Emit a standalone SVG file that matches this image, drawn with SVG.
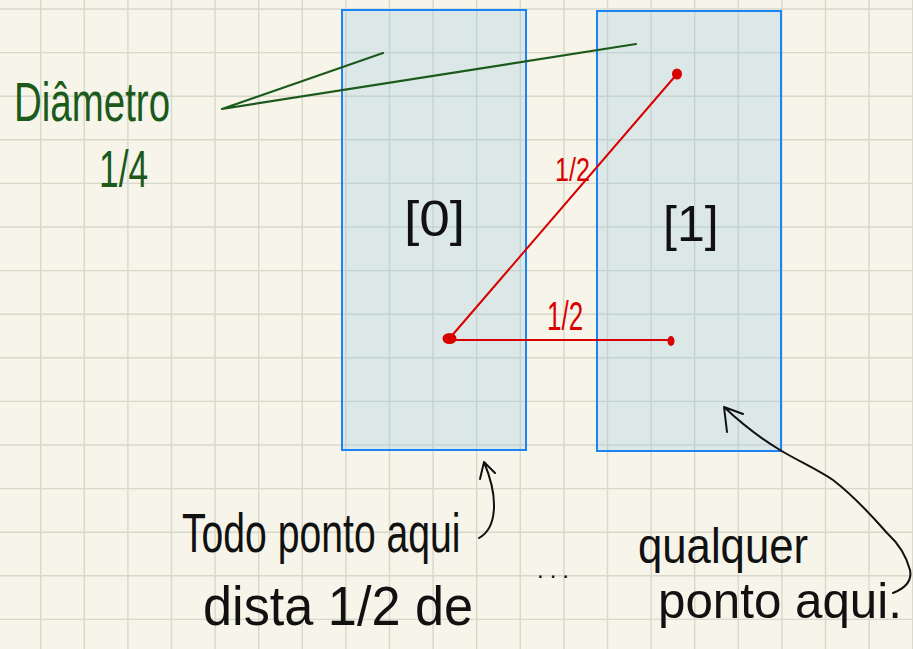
<svg xmlns="http://www.w3.org/2000/svg" width="913" height="649" viewBox="0 0 913 649">
<style>
.grid{stroke:#d8d8cb;stroke-width:1.4;fill:none}
.box{fill:#8cc3e1;fill-opacity:0.25;stroke:#1a84f6;stroke-width:2}
.hw{font-family:"Liberation Sans","DejaVu Sans",sans-serif;fill:#111}
.gt{fill:#1b5a1b}
.rt{fill:#d90000}
.green{stroke:#1b5a1b;stroke-width:2.2;fill:none;stroke-linecap:round}
.red{stroke:#d90000;stroke-width:2;fill:none}
.ink{stroke:#111;stroke-width:2;fill:none;stroke-linecap:round;stroke-linejoin:round}
</style>
<rect x="0" y="0" width="913" height="649" fill="#f7f5ea"/>
<path class="grid" d="M40.7 0V649M84.3 0V649M127.9 0V649M171.5 0V649M215.1 0V649M258.7 0V649M302.3 0V649M345.9 0V649M389.5 0V649M433.1 0V649M476.7 0V649M520.3 0V649M563.9 0V649M607.5 0V649M651.1 0V649M694.7 0V649M738.3 0V649M781.9 0V649M825.5 0V649M869.1 0V649M912.7 0V649
M0 9H913M0 52.6H913M0 96.2H913M0 139.8H913M0 183.4H913M0 227H913M0 270.6H913M0 314.2H913M0 357.8H913M0 401.4H913M0 445H913M0 488.6H913M0 532.2H913M0 575.8H913M0 619.4H913"/>

<g id="box0">
<rect class="box" x="342" y="10" width="184" height="440"/>
<text class="hw" transform="translate(404 236) scale(1.1 1)" font-size="50">[0]</text>
</g>
<g id="box1">
<rect class="box" x="597" y="11" width="184" height="440"/>
<text class="hw" transform="translate(663 241)" font-size="50">[1]</text>
</g>

<g id="diametro">
<text class="hw gt" transform="translate(14 121) scale(0.687 1)" font-size="56">Diâmetro</text>
<text class="hw gt" transform="translate(99 187) scale(0.68 1)" font-size="52">1/4</text>
</g>

<g id="note-left">
<text class="hw" transform="translate(182 552) scale(0.699 1)" font-size="56">Todo ponto aqui</text>
<text class="hw" transform="translate(203 625) scale(0.933 1)" font-size="56">dista 1/2 de</text>
</g>
<g id="dots-text">
<text class="hw" x="537" y="578" font-size="24" letter-spacing="6">...</text>
</g>
<g id="note-right">
<text class="hw" transform="translate(638 563) scale(0.874 1)" font-size="50">qualquer</text>
<text class="hw" transform="translate(658 618) scale(0.986 1)" font-size="50">ponto aqui.</text>
</g>

<g id="connectors">
<path class="green" d="M222 109L383 53M222 109L636 44"/>
<path class="red" d="M449 339L677 74M449 340L671 340"/>
<ellipse cx="449.5" cy="338.5" rx="7" ry="5.5" fill="#d90000"/>
<ellipse cx="677" cy="74" rx="5" ry="5.5" fill="#d90000"/>
<ellipse cx="671" cy="341" rx="3.5" ry="5" fill="#d90000"/>
<text class="hw rt" transform="translate(555 181) scale(0.74 1)" font-size="34">1/2</text>
<text class="hw rt" transform="translate(547 330) scale(0.65 1)" font-size="40">1/2</text>
<path class="ink" d="M479 538C497 528 499 498 484 462M484 462L480 479M484 462L495 473"/>
<path class="ink" d="M893 593C906 588 912 580 910 570C906 555 898 543 887 533C873 517 855 497 833 480C815 468 800 462 780 450C760 438 742 424 724 407M724 407L727 432M724 407L743 414"/>
</g>
</svg>
